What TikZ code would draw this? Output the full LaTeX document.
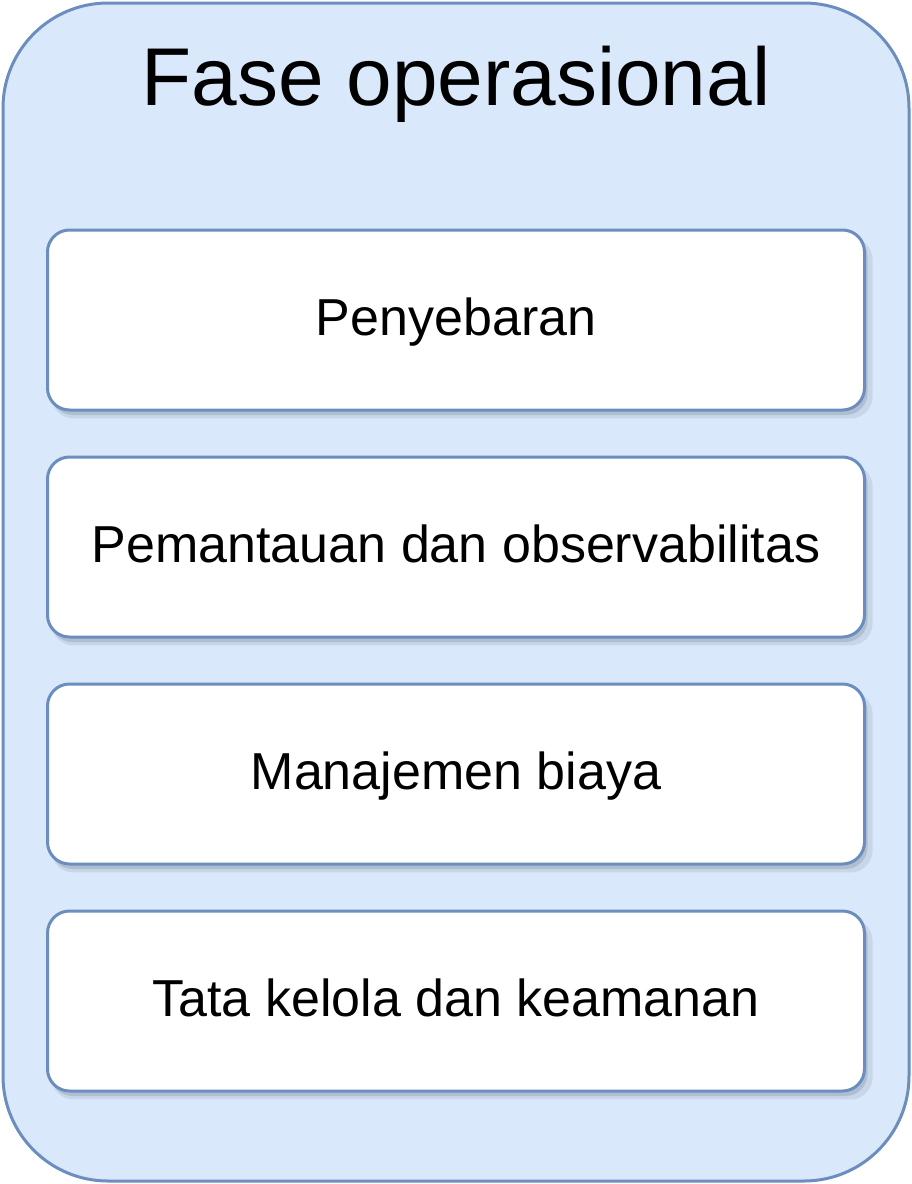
\documentclass[tikz,border=0pt]{standalone}
\usepackage{fontspec}
\setmainfont{Liberation Sans}
\usetikzlibrary{shadows}
\definecolor{outerfill}{HTML}{DAE8FC}
\definecolor{edgeblue}{HTML}{6C8EBF}
\begin{document}
\begin{tikzpicture}[x=1pt,y=-1pt,
  container/.style={draw=edgeblue, fill=outerfill, line width=3pt, rounded corners=105pt},
  itembox/.style={draw=edgeblue, fill=white, line width=3pt, rounded corners=22pt,
    minimum width=817pt, minimum height=180pt, inner sep=0pt,
    drop shadow={shadow xshift=6pt, shadow yshift=-8pt, fill=black!60!edgeblue, opacity=0.10, shadow scale=1.005},
    drop shadow={shadow xshift=3pt, shadow yshift=-5pt, fill=black!60!edgeblue, opacity=0.15}},
  itemtext/.style={font=\fontsize{52}{60}\selectfont, anchor=base},
  titletext/.style={font=\fontsize{82}{96}\selectfont, anchor=base}]
\useasboundingbox (0,0) rectangle (912,1184);
\draw[container] (3,3) rectangle (909,1181);
\node[titletext] (title) at (456,105) {Fase operasional};
\node[itembox] (b1) at (456,320) {};
\node[itembox] (b2) at (456,547) {};
\node[itembox] (b3) at (456,774) {};
\node[itembox] (b4) at (456,1001) {};
\node[itemtext] (t1) at ([yshift=-15pt]b1.center) {Penyebaran};
\node[itemtext] (t2) at ([yshift=-15pt]b2.center) {Pemantauan dan observabilitas};
\node[itemtext] (t3) at ([yshift=-15pt]b3.center) {Manajemen biaya};
\node[itemtext] (t4) at ([yshift=-15pt]b4.center) {Tata kelola dan keamanan};
\end{tikzpicture}
\end{document}
